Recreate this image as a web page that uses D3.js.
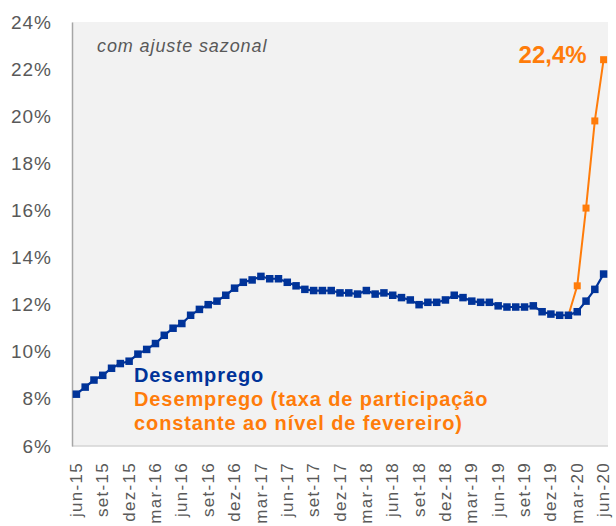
<!DOCTYPE html>
<html><head><meta charset="utf-8">
<script src="https://cdn.jsdelivr.net/npm/d3@7"></script>
<style>
body{margin:0;background:#fff}
svg{display:block;font-family:"Liberation Sans",Arial,sans-serif}
</style>
</head><body>
<svg id="chart" width="616" height="526"></svg>
<script>
const months = [
  "jun-15","jul-15","ago-15","set-15","out-15","nov-15","dez-15",
  "jan-16","fev-16","mar-16","abr-16","mai-16","jun-16","jul-16","ago-16","set-16","out-16","nov-16","dez-16",
  "jan-17","fev-17","mar-17","abr-17","mai-17","jun-17","jul-17","ago-17","set-17","out-17","nov-17","dez-17",
  "jan-18","fev-18","mar-18","abr-18","mai-18","jun-18","jul-18","ago-18","set-18","out-18","nov-18","dez-18",
  "jan-19","fev-19","mar-19","abr-19","mai-19","jun-19","jul-19","ago-19","set-19","out-19","nov-19","dez-19",
  "jan-20","fev-20","mar-20","abr-20","mai-20","jun-20"
];
const desemprego = [
  8.2, 8.5, 8.8, 9.0, 9.3, 9.5, 9.6,
  9.9, 10.1, 10.35, 10.7, 11.0, 11.2, 11.55, 11.8, 12.0, 12.15, 12.4, 12.7,
  12.95, 13.05, 13.2, 13.1, 13.1, 12.95, 12.8, 12.65, 12.6, 12.6, 12.6, 12.5,
  12.5, 12.45, 12.6, 12.45, 12.5, 12.4, 12.3, 12.2, 12.0, 12.1, 12.1, 12.2,
  12.4, 12.3, 12.15, 12.1, 12.1, 11.95, 11.9, 11.9, 11.9, 11.95, 11.7, 11.6,
  11.55, 11.55, 11.7, 12.15, 12.65, 13.3
];
const taxaConstMonths = ["fev-20","mar-20","abr-20","mai-20","jun-20"];
const taxaConstValues = [11.55, 12.8, 16.1, 19.8, 22.4];
const yTicks = [6, 8, 10, 12, 14, 16, 18, 20, 22, 24];
const xTickLabels = ["jun-15","set-15","dez-15","mar-16","jun-16","set-16","dez-16","mar-17","jun-17","set-17","dez-17","mar-18","jun-18","set-18","dez-18","mar-19","jun-19","set-19","dez-19","mar-20","jun-20"];
const legendLabels = ["Desemprego", "Desemprego (taxa de participação", "constante  ao nível de fevereiro)"];
const lastLabel = "22,4%";
const subtitle = "com ajuste sazonal";

const BLUE = "#003399", ORANGE = "#ff7c0a", GRAY = "#595959";
const L = 72, R = 608, T = 22, B = 446;
const svg = d3.select("#chart");

const x = d3.scalePoint().domain(months).range([L, R]).padding(0.5);
const y = d3.scaleLinear().domain([6, 24]).range([B, T]);

svg.append("rect").attr("x", L).attr("y", T).attr("width", R - L).attr("height", B - T).attr("fill", "#f2f2f2");
svg.append("line").attr("x1", L).attr("x2", R).attr("y1", B).attr("y2", B).attr("stroke", "#d4d4d4").attr("stroke-width", 1.5);

const yAxis = svg.append("g").attr("transform", `translate(${L},0)`)
  .call(d3.axisLeft(y).tickValues(yTicks).tickSize(0).tickPadding(20).tickFormat(d => d + "%"));
yAxis.select(".domain").attr("stroke", "#a6a6a6").attr("stroke-width", 1.5);
yAxis.selectAll("text").attr("fill", GRAY).attr("font-size", 19).attr("letter-spacing", "1px")
  .attr("font-family", '"Liberation Sans",Arial,sans-serif');

const xAxis = svg.append("g").attr("transform", `translate(0,${B})`)
  .call(d3.axisBottom(x).tickValues(xTickLabels).tickSize(0));
xAxis.select(".domain").remove();
xAxis.selectAll("text").attr("fill", GRAY).attr("font-size", 17).attr("letter-spacing", "1.3px")
  .attr("font-family", '"Liberation Sans",Arial,sans-serif')
  .attr("text-anchor", "end").attr("transform", "rotate(-90)")
  .attr("x", -16).attr("y", 0).attr("dy", "0.3em");

const line = d3.line().x(d => x(d[0])).y(d => y(d[1]));

const orangeData = taxaConstMonths.map((m, i) => [m, taxaConstValues[i]]);
svg.append("path").datum(orangeData).attr("d", line).attr("fill", "none").attr("stroke", ORANGE).attr("stroke-width", 2);
svg.selectAll("rect.om").data(orangeData.slice(1)).join("rect").attr("class", "om")
  .attr("x", d => x(d[0]) - 3.5).attr("y", d => y(d[1]) - 3.5).attr("width", 7).attr("height", 7).attr("fill", ORANGE);

const blueData = months.map((m, i) => [m, desemprego[i]]);
svg.append("path").datum(blueData).attr("d", line).attr("fill", "none").attr("stroke", BLUE).attr("stroke-width", 2.2);
svg.selectAll("rect.bm").data(blueData).join("rect").attr("class", "bm")
  .attr("x", d => x(d[0]) - 3.75).attr("y", d => y(d[1]) - 3.75).attr("width", 7.5).attr("height", 7.5).attr("fill", BLUE);

svg.append("text").attr("x", 97).attr("y", 52).attr("font-size", 18).attr("font-style", "italic")
  .attr("letter-spacing", "0.9px").attr("fill", GRAY).text(subtitle);

svg.append("text").attr("x", x(months[months.length - 1]) - 17).attr("y", 63).attr("text-anchor", "end")
  .attr("font-size", 24).attr("font-weight", "bold").attr("fill", ORANGE).text(lastLabel);

const legendColors = [BLUE, ORANGE, ORANGE];
const legendY = [382, 406, 430];
legendLabels.forEach((t, i) => {
  svg.append("text").attr("x", 134).attr("y", legendY[i]).attr("font-size", 20).attr("font-weight", "bold")
    .attr("letter-spacing", "0.9px").attr("fill", legendColors[i]).text(t);
});
</script>
</body></html>
